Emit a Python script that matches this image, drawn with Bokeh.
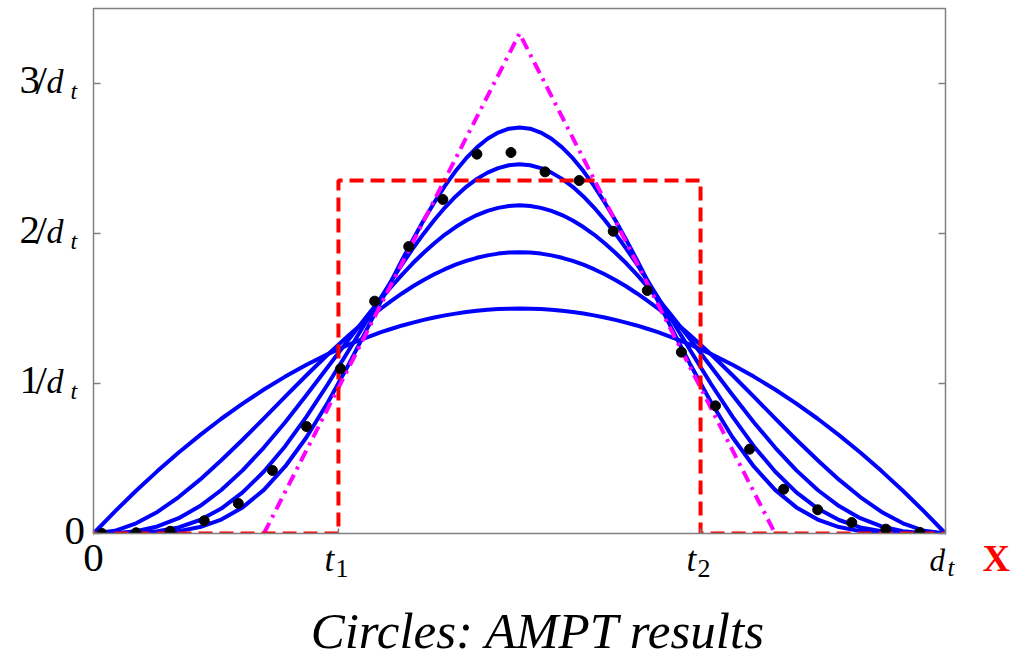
import math

from bokeh.plotting import figure
from bokeh.models import Range1d
from bokeh.core.properties import value
from bokeh.embed import file_html
from bokeh.resources import INLINE

# ---------------------------------------------------------------
# Formation-time distributions, x in units of d_t, y in units of 1/d_t
# ---------------------------------------------------------------
# sampling grid: coarser on the flanks, finer around the peak
x_grid = ([i * 0.025 for i in range(12)]
          + [0.3 + i * 0.0125 for i in range(33)]
          + [0.725 + i * 0.025 for i in range(12)])

curve_a = [0.000, 0.146, 0.285, 0.416, 0.540, 0.656, 0.765, 0.866, 0.960, 1.046, 1.125, 1.196,
           1.260, 1.289, 1.316, 1.342, 1.365, 1.387, 1.406, 1.424, 1.440, 1.454, 1.466, 1.477,
           1.485, 1.492, 1.496, 1.499, 1.500, 1.499, 1.496, 1.492, 1.485, 1.477, 1.466, 1.454,
           1.440, 1.424, 1.406, 1.387, 1.365, 1.342, 1.316, 1.289, 1.260,
           1.196, 1.125, 1.046, 0.960, 0.866, 0.765, 0.656, 0.540, 0.416, 0.285, 0.146, 0.000]

curve_b = [0.000, 0.018, 0.068, 0.144, 0.243, 0.359, 0.488, 0.625, 0.768, 0.912, 1.055, 1.193,
           1.323, 1.385, 1.444, 1.500, 1.553, 1.602, 1.648, 1.690, 1.728, 1.762, 1.792, 1.817,
           1.838, 1.854, 1.866, 1.873, 1.875, 1.873, 1.866, 1.854, 1.838, 1.817, 1.792, 1.762,
           1.728, 1.690, 1.648, 1.602, 1.553, 1.500, 1.444, 1.385, 1.323,
           1.193, 1.055, 0.912, 0.768, 0.625, 0.488, 0.359, 0.243, 0.144, 0.068, 0.018, 0.000]

curve_c = [0.000, 0.002, 0.015, 0.047, 0.102, 0.183, 0.290, 0.421, 0.573, 0.742, 0.923, 1.110,
           1.297, 1.388, 1.478, 1.565, 1.648, 1.728, 1.803, 1.872, 1.935, 1.993, 2.043, 2.087,
           2.123, 2.151, 2.171, 2.183, 2.188, 2.183, 2.171, 2.151, 2.123, 2.087, 2.043, 1.993,
           1.935, 1.872, 1.803, 1.728, 1.648, 1.565, 1.478, 1.388, 1.297,
           1.110, 0.923, 0.742, 0.573, 0.421, 0.290, 0.183, 0.102, 0.047, 0.015, 0.002, 0.000]

curve_d = [0.000, 0.000, 0.003, 0.015, 0.041, 0.090, 0.166, 0.274, 0.413, 0.582, 0.779, 0.995,
           1.225, 1.342, 1.459, 1.575, 1.688, 1.797, 1.901, 1.999, 2.090, 2.173, 2.247, 2.311,
           2.364, 2.406, 2.436, 2.455, 2.461, 2.455, 2.436, 2.406, 2.364, 2.311, 2.247, 2.173,
           2.090, 1.999, 1.901, 1.797, 1.688, 1.575, 1.459, 1.342, 1.225,
           0.995, 0.779, 0.582, 0.413, 0.274, 0.166, 0.090, 0.041, 0.015, 0.003, 0.000, 0.000]

curve_e = [0.000, 0.000, 0.001, 0.004, 0.016, 0.043, 0.093, 0.174, 0.291, 0.447, 0.642, 0.873,
           1.132, 1.269, 1.408, 1.549, 1.689, 1.827, 1.960, 2.088, 2.207, 2.317, 2.416, 2.502,
           2.574, 2.632, 2.673, 2.699, 2.707, 2.699, 2.673, 2.632, 2.574, 2.502, 2.416, 2.317,
           2.207, 2.088, 1.960, 1.827, 1.689, 1.549, 1.408, 1.269, 1.132,
           0.873, 0.642, 0.447, 0.291, 0.174, 0.093, 0.043, 0.016, 0.004, 0.001, 0.000, 0.000]

blue_curves = [curve_a, curve_b, curve_c, curve_d, curve_e]

# AMPT results (circles)
ampt_x = [0.01, 0.05, 0.09, 0.13, 0.17, 0.21, 0.25, 0.29, 0.33, 0.37, 0.41, 0.45,
          0.49, 0.53, 0.57, 0.61, 0.65, 0.69, 0.73, 0.77, 0.81, 0.85, 0.89, 0.93,
          0.97]
ampt_y = [0.000, 0.005, 0.015, 0.085, 0.200, 0.420, 0.713, 1.098, 1.549, 1.913,
          2.227, 2.529, 2.540, 2.411, 2.353, 2.015, 1.620, 1.209, 0.851, 0.562,
          0.295, 0.158, 0.073, 0.029, 0.007]

# uniform distribution between t1 and t2
t1 = 0.2875
t2 = 0.7125
box_height = 2.353
box_x = [0.0, t1, t1, t2, t2, 1.0]
box_y = [0.0, 0.0, box_height, box_height, 0.0, 0.0]

# triangular distribution
tri_x = [0.2, 0.5, 0.8]
tri_y = [0.0, 3.333, 0.0]

x_ticks = [0.0, t1, t2, 1.0]
y_ticks = [0, 1, 2, 3]
y_top = 3.5

# ---------------------------------------------------------------
# canvas: the plotting region covers the whole page so that the
# tick texts (with italics and subscripts) can sit around the box
# ---------------------------------------------------------------
W, H = 1027, 659
BOX_L, BOX_R, BOX_T, BOX_B = 93, 82, 8, 126      # margins around the box, px
BOX_W, BOX_H = W - BOX_L - BOX_R, H - BOX_T - BOX_B
px_x = 1.0 / BOX_W
px_y = y_top / BOX_H
x_lo, x_hi = -BOX_L * px_x, 1.0 + BOX_R * px_x
y_lo, y_hi = -BOX_B * px_y, y_top + BOX_T * px_y

FONT = "Liberation Serif"
GREY = "#808080"

p = figure(width=W, height=H, output_backend="svg", toolbar_location=None,
           x_range=Range1d(x_lo, x_hi), y_range=Range1d(y_lo, y_hi),
           x_axis_type=None, y_axis_type=None, min_border=0)
p.xgrid.visible = False
p.ygrid.visible = False
p.outline_line_color = None
p.background_fill_color = "white"
p.border_fill_color = "white"

# model curves
for ys in blue_curves:
    p.line(x_grid, ys, line_color="#0000FF", line_width=4, line_join="round")

# triangle (dash-dot) and box (dashed)
p.line(tri_x, tri_y, line_color="#FF00FF", line_width=4, line_dash="12 6 3 6")
p.line(box_x, box_y, line_color="#FF0000", line_width=4, line_dash="14 7")

# AMPT points
p.scatter(ampt_x, ampt_y, size=10, fill_color="black", line_color="black")

# keep everything inside the axes box
p.quad(left=[x_lo, 1.0, 0.0, 0.0], right=[0.0, x_hi, 1.0, 1.0],
       bottom=[y_lo, y_lo, y_lo, y_top], top=[y_hi, y_hi, 0.0, y_hi],
       fill_color="white", line_color=None)

# axes box and inward ticks
p.quad(left=0.0, right=1.0, bottom=0.0, top=y_top, fill_color=None,
       line_color=GREY, line_width=1.5)
p.ray(x=[0.0] * len(y_ticks), y=y_ticks, length=7, length_units="screen",
      angle=0.0, line_color=GREY, line_width=1.5)
p.ray(x=[1.0] * len(y_ticks), y=y_ticks, length=7, length_units="screen",
      angle=math.pi, line_color=GREY, line_width=1.5)
p.ray(x=x_ticks, y=[0.0] * len(x_ticks), length=5, length_units="screen",
      angle=math.pi / 2, line_color=GREY, line_width=1.5)


def piece(x, y, text, dx, dy, size, style="normal", color="black", align="left"):
    """One run of text anchored at data (x, y); (dx, dy) is the pixel shift of
    its baseline (dy downwards)."""
    lift = 4 + 0.25 * size          # baseline correction of the svg text layout
    p.text(x=[x], y=[y], text=[text], x_offset=dx, y_offset=dy - lift,
           text_font=value(FONT), text_font_size=f"{size}px",
           text_font_style=style, text_color=color,
           text_align=align, text_baseline="alphabetic")


# y tick labels: 0, 1/d_t, 2/d_t, 3/d_t
piece(0, 0, "0", -29, 12, 41)
for v in y_ticks[1:]:
    piece(0, v, str(v), -74, 10.5, 41)
    piece(0, v, "/", -58, 10.5, 41)
    piece(0, v, "d", -47, 10.5, 34, "italic")
    piece(0, v, "t", -23, 17, 24, "italic")

# x tick labels: 0, t_1, t_2, d_t
piece(x_ticks[0], 0, "0", 0, 39, 41, align="center")
for xv, sub in ((x_ticks[1], "1"), (x_ticks[2], "2")):
    piece(xv, 0, "t", -14, 38.5, 35, "italic")
    piece(xv, 0, sub, -3, 45, 26)
piece(x_ticks[3], 0, "d", -16, 38.5, 31, "italic")
piece(x_ticks[3], 0, "t", 2, 44, 25, "italic")

# axis name
piece(1.0, 0, "X", 37, 38, 38, "bold", color="#FF0000")

# caption
piece(0.522, 0, "Circles: AMPT results", 0, 114, 51, "italic", align="center")

open("out.html", "w").write(file_html(p, INLINE))
